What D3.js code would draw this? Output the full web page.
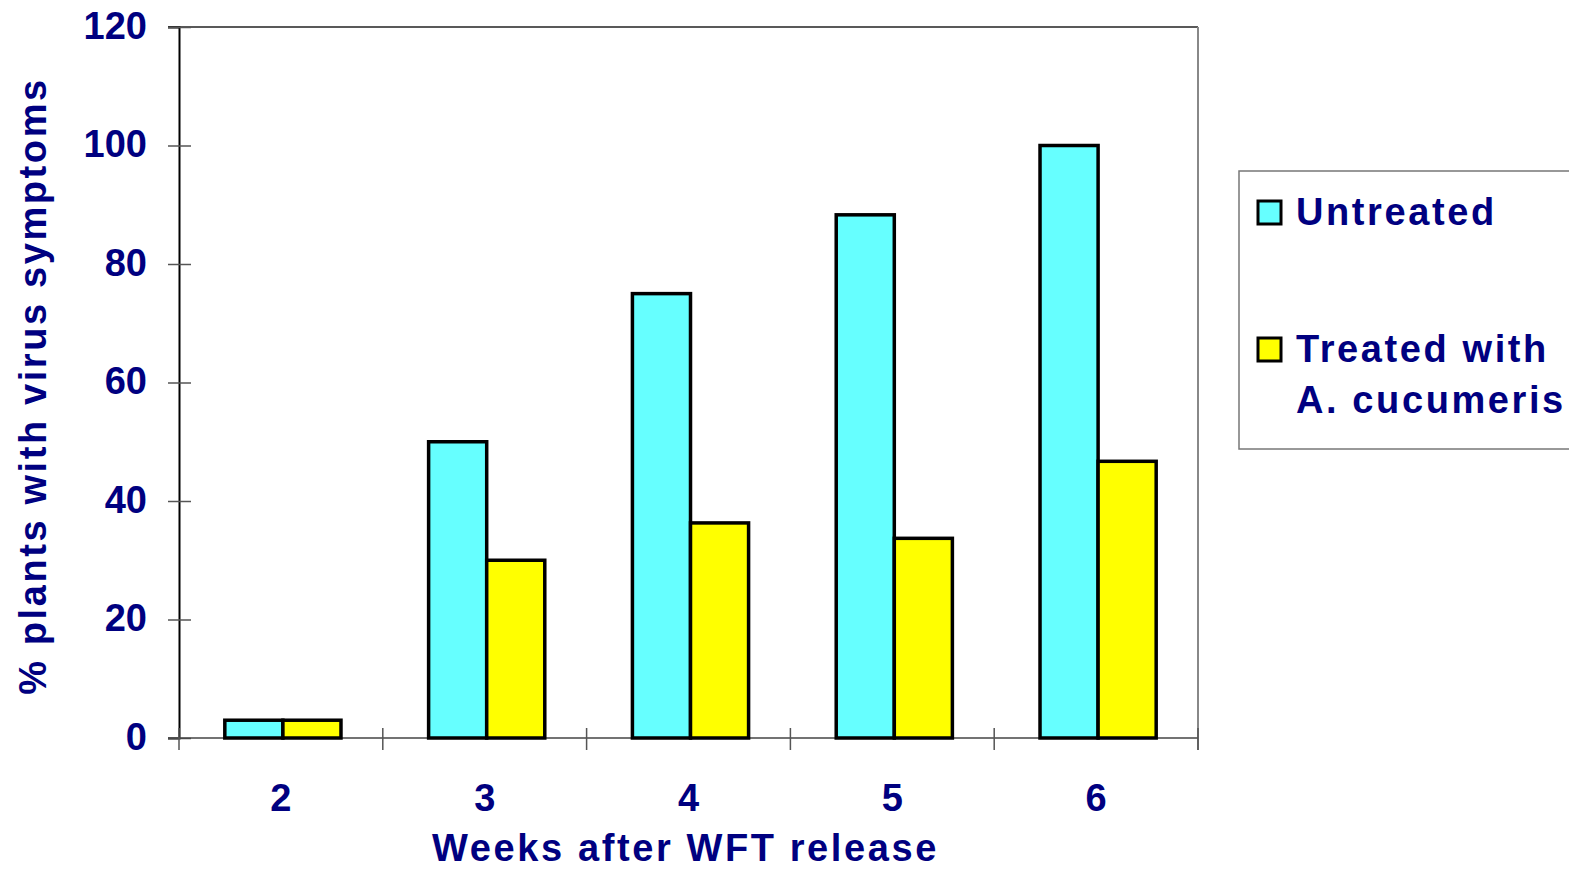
<!DOCTYPE html>
<html>
<head>
<meta charset="utf-8">
<script src="https://cdn.jsdelivr.net/npm/d3@7"></script>
<style>
  body { margin: 0; background: #fff; }
  text { font-family: "Liberation Sans", Arial, sans-serif; font-weight: bold; fill: #000080; }
</style>
</head>
<body>
<div id="chart"></div>
<script>
const weeks = ["2", "3", "4", "5", "6"];
const seriesNames = ["Untreated", "Treated with A. cucumeris"];
const untreated = [3, 50, 75, 88.3, 100];
const treated = [3, 30, 36.3, 33.7, 46.7];
const yTicks = [0, 20, 40, 60, 80, 100, 120];
const colors = ["#66ffff", "#ffff00"];

const width = 1569, height = 870;
const margin = {left: 179, right: 371, top: 27, bottom: 132};
const innerW = width - margin.left - margin.right;
const innerH = height - margin.top - margin.bottom;

const svg = d3.select("#chart")
    .append("svg")
    .attr("width", width)
    .attr("height", height);

const g = svg.append("g")
    .attr("transform", "translate(" + margin.left + "," + margin.top + ")");

const x = d3.scaleBand()
    .domain(weeks)
    .range([0, innerW])
    .paddingInner(0.43)
    .paddingOuter(0.215);

const xSub = d3.scaleBand()
    .domain([0, 1])
    .range([0, x.bandwidth()]);

const y = d3.scaleLinear()
    .domain([0, 120])
    .range([innerH, 0]);

// frame: top and right
g.append("line")
    .attr("x1", -11).attr("x2", innerW)
    .attr("y1", 0).attr("y2", 0)
    .attr("stroke", "#222").attr("stroke-width", 1.5);
g.append("line")
    .attr("x1", innerW).attr("x2", innerW)
    .attr("y1", 0).attr("y2", innerH + 12)
    .attr("stroke", "#888").attr("stroke-width", 2);

// y axis
const yAxis = g.append("g")
    .call(d3.axisLeft(y).tickValues(yTicks).tickSize(11).tickPadding(21));
yAxis.select(".domain").attr("stroke", "#000").attr("stroke-width", 2);
yAxis.selectAll(".tick line")
    .attr("x1", 12)
    .attr("stroke", "#555").attr("stroke-width", 1.5);
yAxis.selectAll(".tick text")
    .attr("font-size", 38)
    .attr("dy", "0.3em")
    .style("font-family", "'Liberation Sans', Arial, sans-serif")
    .style("font-weight", "bold")
    .attr("fill", "#000080");

// x axis
const xAxis = g.append("g")
    .attr("transform", "translate(0," + innerH + ")")
    .call(d3.axisBottom(x).tickSize(0).tickPadding(46));
xAxis.select(".domain").remove();
xAxis.selectAll(".tick text")
    .attr("font-size", 38)
    .style("font-family", "'Liberation Sans', Arial, sans-serif")
    .style("font-weight", "bold")
    .attr("fill", "#000080");

g.append("line")
    .attr("x1", -11).attr("x2", innerW)
    .attr("y1", innerH).attr("y2", innerH)
    .attr("stroke", "#444").attr("stroke-width", 1.5);

const edges = weeks.map(d => x(d) - (x.step() - x.bandwidth()) / 2).concat([innerW]);
g.selectAll(".xedge")
    .data(edges)
    .join("line")
    .attr("class", "xedge")
    .attr("x1", d => d).attr("x2", d => d)
    .attr("y1", innerH - 10).attr("y2", innerH + 12)
    .attr("stroke", "#555").attr("stroke-width", 1.5);

// bars
const rows = weeks.map((w, i) => ({week: w, values: [untreated[i], treated[i]]}));

g.selectAll(".group")
    .data(rows)
    .join("g")
    .attr("class", "group")
    .attr("transform", d => "translate(" + (x(d.week) + 2) + ",0)")
    .selectAll("rect")
    .data(d => d.values)
    .join("rect")
    .attr("x", (d, i) => xSub(i))
    .attr("width", xSub.bandwidth())
    .attr("y", d => y(d))
    .attr("height", d => innerH - y(d))
    .attr("fill", (d, i) => colors[i])
    .attr("stroke", "#000")
    .attr("stroke-width", 3.5);

// axis titles
svg.append("text")
    .attr("x", margin.left + innerW / 2 - 3)
    .attr("y", 861)
    .attr("text-anchor", "middle")
    .attr("font-size", 38)
    .attr("letter-spacing", 2.6)
    .text("Weeks after WFT release");

svg.append("text")
    .attr("transform", "translate(46," + 386 + ") rotate(-90)")
    .attr("text-anchor", "middle")
    .attr("font-size", 38)
    .attr("letter-spacing", 2.6)
    .text("% plants with virus symptoms");

// legend
const legend = svg.append("g");
legend.append("rect")
    .attr("x", 1239).attr("y", 171)
    .attr("width", 400).attr("height", 278)
    .attr("fill", "#fff")
    .attr("stroke", "#777").attr("stroke-width", 1.5);

const legendRows = [
    {lines: ["Untreated"], y: 225},
    {lines: ["Treated with", "A. cucumeris"], y: 362}
];

legendRows.forEach((r, i) => {
    legend.append("rect")
        .attr("x", 1258).attr("y", r.y - 24)
        .attr("width", 23).attr("height", 23)
        .attr("fill", colors[i])
        .attr("stroke", "#000").attr("stroke-width", 3);
    const t = legend.append("text")
        .attr("x", 1296).attr("y", r.y)
        .attr("font-size", 38)
        .attr("letter-spacing", 2.6);
    r.lines.forEach((line, j) => {
        t.append("tspan")
            .attr("x", 1296)
            .attr("dy", j === 0 ? 0 : 51)
            .text(line);
    });
});
</script>
</body>
</html>
